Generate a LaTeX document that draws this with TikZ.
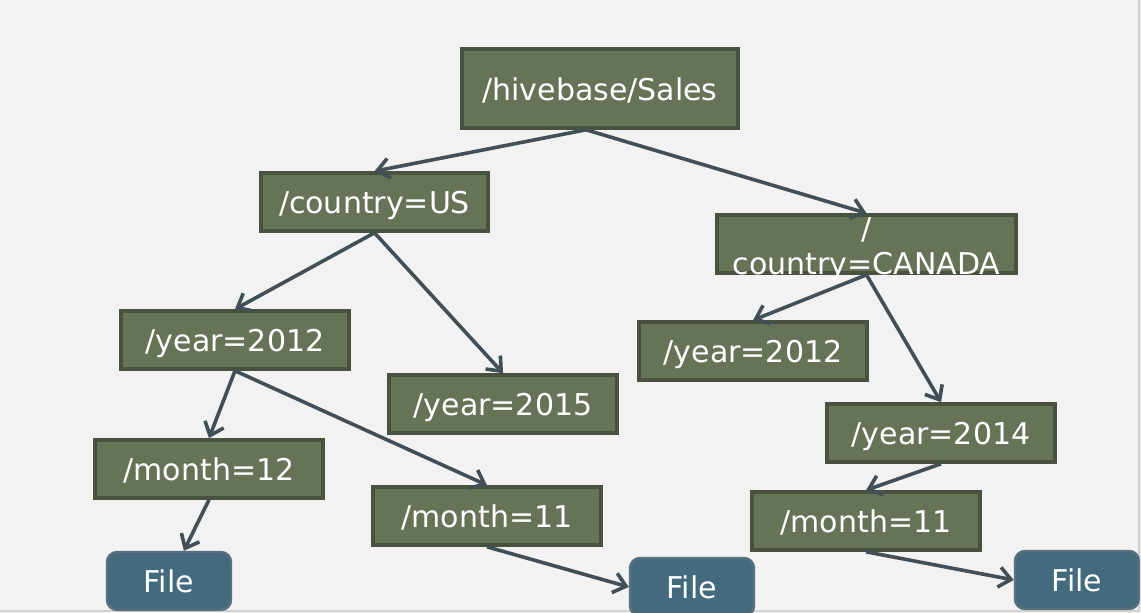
\documentclass[tikz,border=0pt]{standalone}
\usepackage{fontspec}
\setmainfont{DejaVu Sans}
\usetikzlibrary{arrows.meta}

\definecolor{slidebg}{HTML}{F2F2F2}
\definecolor{slideedge}{HTML}{D2D2CA}
\definecolor{dirfill}{HTML}{677356}
\definecolor{dirline}{HTML}{48523E}
\definecolor{filefill}{HTML}{436A7D}
\definecolor{fileline}{HTML}{587080}
\definecolor{arrowgray}{HTML}{434F56}

\begin{document}
\begin{tikzpicture}[x=0.5pt, y=-0.5pt, >={Straight Barb[length=6pt,width=10pt]},
    dirbox/.style={draw=dirline, fill=dirfill, line width=1.8pt, text=white,
      minimum width=114pt, minimum height=29pt, inner sep=0pt,
      text height=12pt, text depth=0pt,
      font=\fontsize{15}{17.5}\selectfont},
    filebox/.style={dirbox, draw=fileline, line width=1.2pt, fill=filefill,
      rounded corners=5pt, minimum width=62pt},
    link/.style={->, draw=arrowgray, line width=1.8pt}]
    % slide
    \useasboundingbox (0,0) rectangle (1141,613);
    \fill[slidebg] (0,0) rectangle (1141,613);
    \draw[slideedge, line width=1pt] (1139,0) -- (1139,611.5) -- (0,611.5);

    % top: root and countries
    \node [dirbox, minimum width=138pt, minimum height=39.5pt] (root) at (600,88.5) {/hivebase/Sales};
    \node [dirbox, minimum width=113.5pt] (us) at (374.5,202) {/country=US};
    \node [dirbox, minimum width=149.5pt,
           label={[text=white, align=center, yshift=-2.5pt,
                   font=\fontsize{15}{17.5}\selectfont]center:/\\country=CANADA}]
          (canada) at (866.5,244) {};

    % years
    \node [dirbox] (us2012) at (235,340) {/year=2012};
    \node [dirbox] (us2015) at (503,404) {/year=2015};
    \node [dirbox] (ca2012) at (753,351) {/year=2012};
    \node [dirbox] (ca2014) at (941,433) {/year=2014};

    % months
    \node [dirbox] (us12) at (209,469) {/month=12};
    \node [dirbox] (us11) at (487,516) {/month=11};
    \node [dirbox] (ca11) at (866,521) {/month=11};

    % files
    \node [filebox] (fileus12) at (169,581) {File};
    \node [filebox] (fileus11) at (692,587) {File};
    \node [filebox] (fileca11) at (1077,580) {File};

    % arrows
    \draw[link] ([xshift=-7pt]root.south) -- (us.north);
    \draw[link] ([xshift=-7pt]root.south) -- (canada.north);
    \draw[link] (us.south) -- (us2012.north);
    \draw[link] (us.south) -- (us2015.north);
    \draw[link] (canada.south) -- (ca2012.north);
    \draw[link] (canada.south) -- (ca2014.north);
    \draw[link] (us2012.south) -- (us12.north);
    \draw[link] (us2012.south) -- (us11.north);
    \draw[link] (ca2014.south) -- (ca11.north);
    \draw[link] (us12.south) -- (fileus12);
    \draw[link] (us11.south) -- (fileus11.west);
    \draw[link] (ca11.south) -- (fileca11.west);
\end{tikzpicture}
\end{document}
